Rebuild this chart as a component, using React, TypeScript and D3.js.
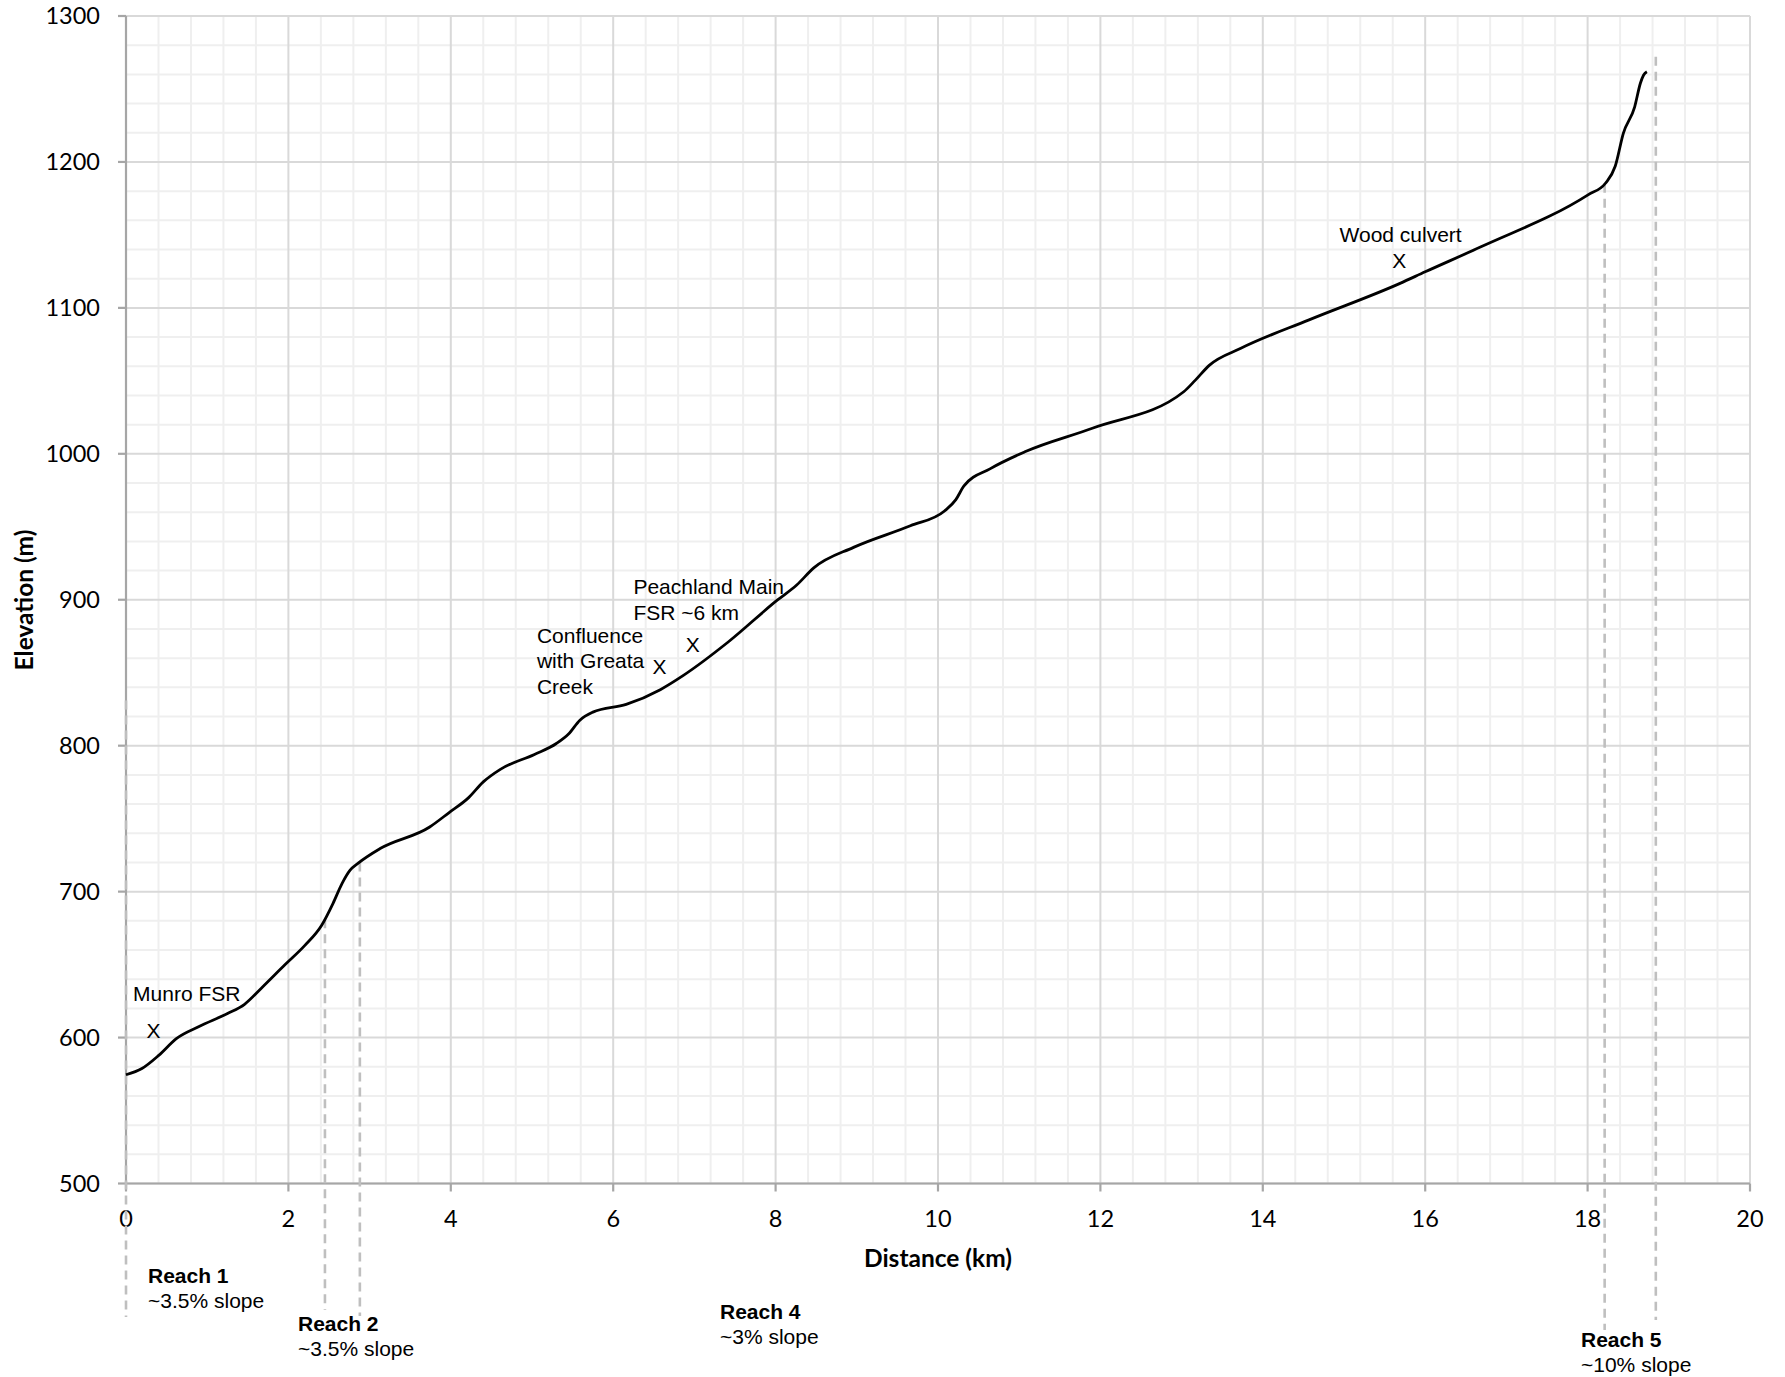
import React from 'react';
import * as d3 from 'd3';

// ---- Data ----
const distanceKm = [
  0, 0.196, 0.407, 0.62, 0.9, 1.25, 1.46, 1.67, 1.96, 2.2, 2.41, 2.55, 2.66, 2.76, 2.86, 3.13,
  3.74, 3.98, 4.22, 4.4, 4.61, 5.03, 5.3, 5.45, 5.59, 5.75, 6.16, 6.58, 6.86, 7.42, 8.02, 8.26,
  8.47, 8.96, 9.66, 10.08, 10.22, 10.32, 10.64, 11.07, 11.91, 13.03, 13.17, 13.34, 13.73, 14.57,
  15.69, 16.0, 16.68, 18.01, 18.22, 18.34, 18.44, 18.58, 18.65, 18.69, 18.73,
];
const elevationM = [
  574.5, 578.8, 588, 599.3, 607.6, 616.5, 622.8, 634, 650, 663, 677, 692, 705.5, 714.7, 719.5, 729.5,
  744.3, 754.2, 764.4, 775.2, 783.8, 794, 801.5, 808, 817.5, 823, 828.3, 838.4, 848, 871.2, 899.7, 910.1,
  921.8, 935.9, 950.7, 960.8, 968.6, 978, 989.7, 1001.4, 1017.7, 1042.7, 1050.5, 1060.6, 1072.3, 1091.8,
  1116.8, 1124.7, 1141.7, 1177.6, 1185.4, 1197, 1219.6, 1237.8, 1253.9, 1259.6, 1261.8,
];

const xTicks = [0, 2, 4, 6, 8, 10, 12, 14, 16, 18, 20];
const yTicks = [500, 600, 700, 800, 900, 1000, 1100, 1200, 1300];
const xMinorStepKm = 0.4;
const yMinorStepM = 20;

const reachBoundaryKm = [0, 2.45, 2.88, 18.21, 18.84];
const reachBoundaryTopM = [831, 681, 720, 1185, 1272];

const reachTitles = ['Reach 1', 'Reach 2', 'Reach 4', 'Reach 5'];
const reachSlopes = ['~3.5% slope', '~3.5% slope', '~3% slope', '~10% slope'];

const featureNames = [
  ['Munro FSR'],
  ['Confluence', 'with Greata', 'Creek'],
  ['Peachland Main', 'FSR ~6 km'],
  ['Wood culvert'],
];
const featureKm = [0.34, 6.57, 6.98, 15.68];
const featureElevM = [605, 854.5, 869.2, 1132.4];

// ---- Layout ----
const W = 1785;
const H = 1377;
const plotLeft = 126;
const plotRight = 1750;
const plotTop = 16;
const plotBottom = 1183.5;

// bottom ends of the dashed reach lines (pixels)
const reachLineBottom = [1317, 1310, 1316, 1330, 1320];
// reach label anchors (pixels): left x, baseline of title
const reachLabelPos = [
  [148, 1283],
  [298, 1331],
  [720, 1319],
  [1581, 1347],
];
// feature label offsets relative to X marker center (px): dx of left edge, baseline dy of first line
const featureLabelOffset = [
  [-20.5, -29],
  [-122.6, -23.5],
  [-59.4, -50.5],
  [-59.7, -18.8],
];

const axisFont = 'Lato, "Open Sans", sans-serif';
const annoFont = '"Liberation Sans", Arial, sans-serif';

export default function App() {
  const x = d3.scaleLinear().domain([0, 20]).range([plotLeft, plotRight]);
  const y = d3.scaleLinear().domain([500, 1300]).range([plotBottom, plotTop]);

  const xMinor = d3.range(0, 20 + 1e-9, xMinorStepKm).filter(
    (v) => Math.abs(v / 2 - Math.round(v / 2)) > 1e-6
  );
  const yMinor = d3.range(500, 1300 + 1e-9, yMinorStepM).filter((v) => v % 100 !== 0);

  const pts: [number, number][] = distanceKm.map((d, i) => [d, elevationM[i]]);
  const line = d3
    .line<[number, number]>()
    .x((d) => x(d[0]))
    .y((d) => y(d[1]))
    .curve(d3.curveMonotoneX);

  return (
    <svg
      width={W}
      height={H}
      style={{ position: 'absolute', left: 0, top: 0, background: '#fff' }}
    >
      <rect x={0} y={0} width={W} height={H} fill="#fff" />
      {/* minor grid */}
      <g stroke="#efefef" strokeWidth={2}>
        {xMinor.map((v) => (
          <line key={'xm' + v} x1={x(v)} x2={x(v)} y1={plotTop} y2={plotBottom} />
        ))}
        {yMinor.map((v) => (
          <line key={'ym' + v} x1={plotLeft} x2={plotRight} y1={y(v)} y2={y(v)} />
        ))}
      </g>
      {/* major grid */}
      <g stroke="#d9d9d9" strokeWidth={2}>
        {xTicks.map((v) => (
          <line key={'xM' + v} x1={x(v)} x2={x(v)} y1={plotTop} y2={plotBottom} />
        ))}
        {yTicks.map((v) => (
          <line key={'yM' + v} x1={plotLeft} x2={plotRight} y1={y(v)} y2={y(v)} />
        ))}
      </g>
      {/* axes */}
      <g stroke="#a6a6a6" strokeWidth={2.2}>
        <line x1={plotLeft} x2={plotLeft} y1={plotTop} y2={plotBottom} />
        <line x1={plotLeft} x2={plotRight} y1={plotBottom} y2={plotBottom} />
        {yTicks.map((v) => (
          <line key={'yt' + v} x1={plotLeft - 8} x2={plotLeft} y1={y(v)} y2={y(v)} />
        ))}
        {xTicks.map((v) => (
          <line key={'xt' + v} x1={x(v)} x2={x(v)} y1={plotBottom} y2={plotBottom + 8} />
        ))}
      </g>
      {/* tick labels */}
      <g fontFamily={axisFont} fontSize={23.5} fill="#000">
        {yTicks.map((v) => (
          <text key={'yl' + v} x={100} y={y(v) + 8.4} textAnchor="end">
            {v}
          </text>
        ))}
        {xTicks.map((v) => (
          <text key={'xl' + v} x={x(v)} y={1227} textAnchor="middle">
            {v}
          </text>
        ))}
      </g>
      {/* axis titles */}
      <text
        x={938}
        y={1266.5}
        textAnchor="middle"
        fontFamily={axisFont}
        fontWeight="bold"
        fontSize={24.5}
      >
        Distance (km)
      </text>
      <text
        transform={`translate(33,600) rotate(-90)`}
        textAnchor="middle"
        fontFamily={axisFont}
        fontWeight="bold"
        fontSize={24.5}
      >
        Elevation (m)
      </text>
      {/* reach boundary dashed lines */}
      <g stroke="#bfbfbf" strokeWidth={2.6} strokeDasharray="9,6">
        {reachBoundaryKm.map((k, i) => (
          <line
            key={'rb' + i}
            x1={x(k)}
            x2={x(k)}
            y1={y(reachBoundaryTopM[i])}
            y2={reachLineBottom[i]}
          />
        ))}
      </g>
      {/* profile */}
      <path d={line(pts) || ''} fill="none" stroke="#000" strokeWidth={2.8} />
      {/* reach labels */}
      <g fontFamily={annoFont} fontSize={21} fill="#000">
        {reachTitles.map((t, i) => (
          <g key={'rl' + i}>
            <text x={reachLabelPos[i][0]} y={reachLabelPos[i][1]} fontWeight="bold">
              {t}
            </text>
            <text x={reachLabelPos[i][0]} y={reachLabelPos[i][1] + 24.5}>
              {reachSlopes[i]}
            </text>
          </g>
        ))}
      </g>
      {/* feature annotations */}
      <g fontFamily={annoFont} fontSize={21} fill="#000">
        {featureNames.map((lines, i) => {
          const cx = x(featureKm[i]);
          const cy = y(featureElevM[i]);
          const [dx, dy] = featureLabelOffset[i];
          return (
            <g key={'f' + i}>
              <text x={cx} y={cy + 7.4} textAnchor="middle">
                X
              </text>
              {lines.map((l, j) => (
                <text key={j} x={cx + dx} y={cy + dy + j * 25.5}>
                  {l}
                </text>
              ))}
            </g>
          );
        })}
      </g>
    </svg>
  );
}
